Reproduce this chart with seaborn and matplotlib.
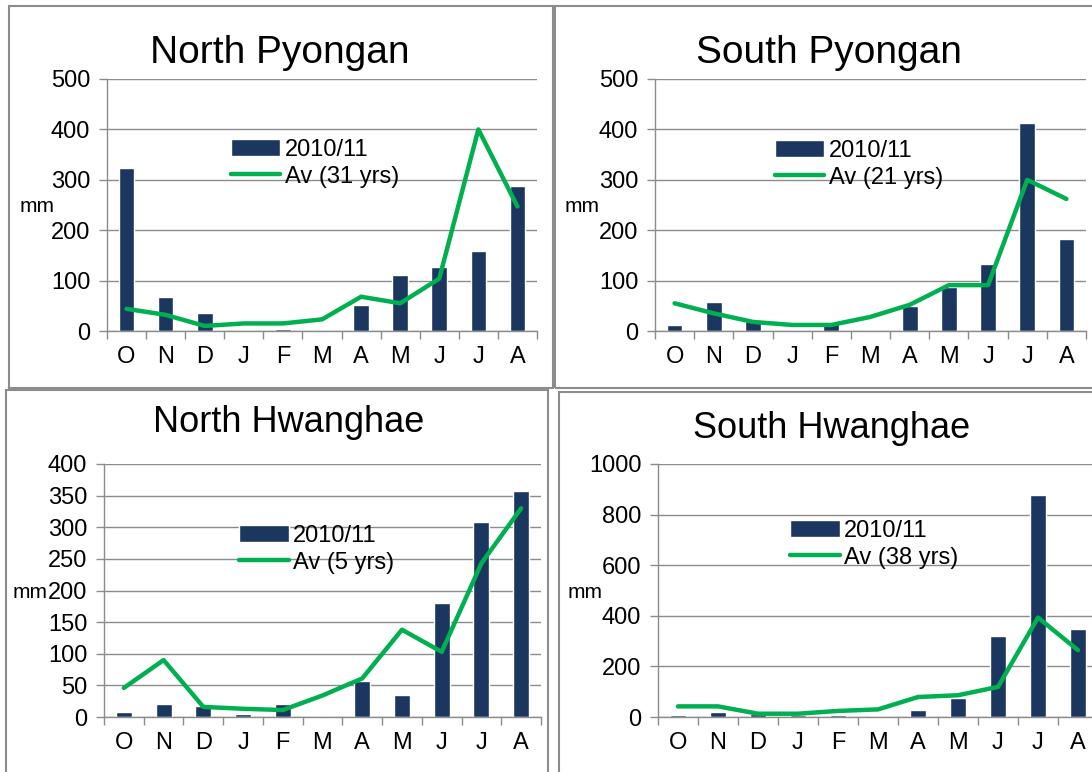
import numpy as np
import matplotlib.pyplot as plt
import seaborn as sns
from matplotlib.patches import Rectangle

# month letters, Oct 2010 .. Aug 2011
months = ["O", "N", "D", "J", "F", "M", "A", "M", "J", "J", "A"]

# rainfall (mm)
north_pyongan_2010 = [324, 67, 36, 0, 3, 0, 52, 112, 126, 159, 288]
north_pyongan_avg = [44, 32, 10, 15, 15, 23, 68, 55, 104, 400, 247]
south_pyongan_2010 = [11, 57, 20, 0, 18, 0, 50, 88, 133, 413, 182]
south_pyongan_avg = [55, 35, 18, 12, 12, 28, 52, 91, 91, 300, 262]
north_hwanghae_2010 = [8, 21, 18, 5, 21, 0, 57, 35, 180, 308, 357]
north_hwanghae_avg = [46, 90, 16, 13, 11, 34, 61, 138, 103, 243, 330]
south_hwanghae_2010 = [9, 20, 13, 9, 9, 0, 29, 75, 321, 877, 347]
south_hwanghae_avg = [42, 42, 13, 13, 24, 30, 79, 86, 119, 393, 264]

bar_label = "2010/11"
navy = "#1b365f"
green = "#00b050"
gray = "#8c8c8c"

W, H = 1092, 772

sns.set_style("white")
plt.rcParams["font.family"] = ["Liberation Sans", "DejaVu Sans"]
plt.rcParams["text.color"] = "black"
plt.rcParams["xtick.color"] = "black"
plt.rcParams["ytick.color"] = "black"

fig = plt.figure(figsize=(W / 100, H / 100), dpi=100)


def px_rect(left, top, right, bottom):
    # pixel box (from top-left) -> figure fraction [x, y, w, h]
    return [left / W, 1 - bottom / H, (right - left) / W, (bottom - top) / H]


def draw_panel(box, axes_px, title, title_xy, title_size, mm_xy,
               bars, avg, avg_label, ymax, ystep, legend_xy):
    # frame round the panel
    b = px_rect(*box)
    fig.add_artist(Rectangle((b[0], b[1]), b[2], b[3], transform=fig.transFigure,
                             fill=False, ec=gray, lw=1.5))

    ax = fig.add_axes(px_rect(*axes_px))
    x = np.arange(len(months))
    sns.barplot(x=x, y=bars, color=navy, width=0.4, saturation=1,
                errorbar=None, label=bar_label, ax=ax, zorder=2)
    sns.lineplot(x=x, y=avg, color=green, lw=3.2, label=avg_label, ax=ax, zorder=3)

    ax.set_xlim(-0.5, 10.5)
    ax.set_ylim(0, ymax)
    ax.set_yticks(np.arange(0, ymax + 1, ystep))
    ax.set_xticks(x)
    ax.set_xticklabels(months)
    ax.set_xticks(np.arange(-0.5, 11, 1), minor=True)
    ax.set_xlabel("")
    ax.set_ylabel("")

    ax.yaxis.grid(True, color=gray, lw=1)
    ax.set_axisbelow(True)
    ax.tick_params(axis="x", which="major", bottom=True, length=0, pad=11, labelsize=17)
    ax.tick_params(axis="x", which="minor", bottom=True, length=6, color=gray, width=1)
    ax.tick_params(axis="y", left=True, length=6, color=gray, width=1, pad=6, labelsize=17)
    for side in ["top", "right"]:
        ax.spines[side].set_visible(False)
    for side in ["left", "bottom"]:
        ax.spines[side].set_color(gray)
        ax.spines[side].set_linewidth(1)

    # legend: bars first, then the average line
    h, l = ax.get_legend_handles_labels()
    order = [l.index(bar_label), l.index(avg_label)]
    ax.legend([h[i] for i in order], [l[i] for i in order], loc="upper left",
              bbox_to_anchor=legend_xy, frameon=False, fontsize=17,
              handlelength=2.1, handletextpad=0.2, labelspacing=0.2,
              borderpad=0, borderaxespad=0)

    fig.text(title_xy[0] / W, 1 - title_xy[1] / H, title, fontsize=title_size,
             ha="center", va="baseline")
    fig.text(mm_xy[0] / W, 1 - mm_xy[1] / H, "mm", fontsize=15, ha="center", va="center")
    return ax


draw_panel((9, 6, 553, 388), (107, 79, 537, 331), "North Pyongan", (280, 63), 28,
           (37, 207), north_pyongan_2010, north_pyongan_avg, "Av (31 yrs)",
           500, 100, (0.288, 0.762))
draw_panel((555, 6, 1096, 388), (655, 79, 1086, 331), "South Pyongan", (829, 63), 28,
           (582, 207), south_pyongan_2010, south_pyongan_avg, "Av (21 yrs)",
           500, 100, (0.278, 0.758))
draw_panel((6, 390, 548, 776), (104, 464, 541, 717), "North Hwanghae", (289, 432), 26,
           (30, 592), north_hwanghae_2010, north_hwanghae_avg, "Av (5 yrs)",
           400, 50, (0.309, 0.759))
draw_panel((559, 392, 1096, 776), (658, 464, 1098, 717), "South Hwanghae", (832, 438), 26,
           (585, 592), south_hwanghae_2010, south_hwanghae_avg, "Av (38 yrs)",
           1000, 200, (0.30, 0.779))

fig.savefig("out.png", dpi=100)
